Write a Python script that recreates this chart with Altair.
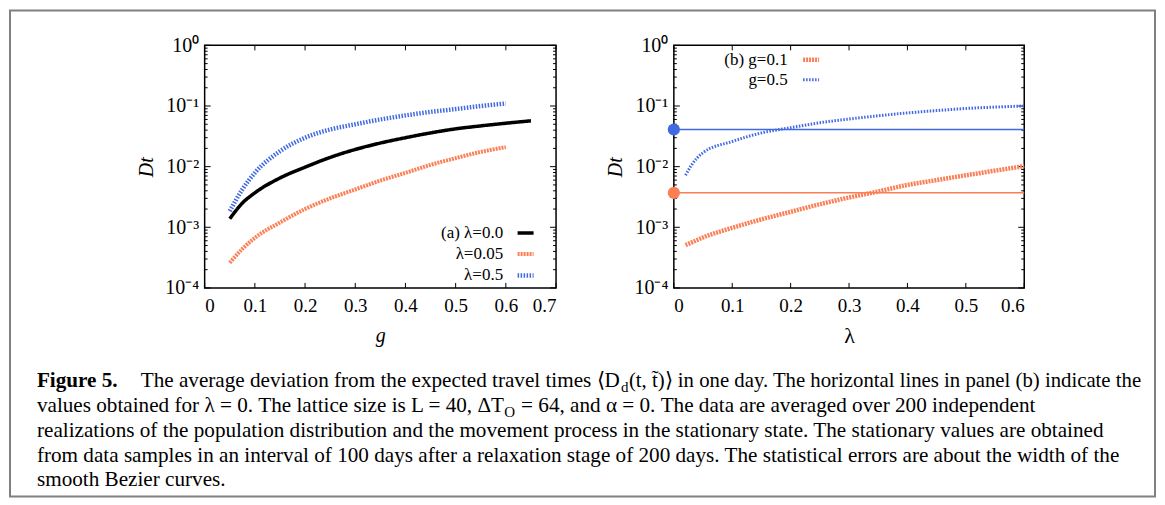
import altair as alt
import pandas as pd

FONT = "Liberation Serif"
ORANGE = "#fb7f55"
BLUE = "#4169e1"

# ---------------- data ----------------
g_vals = [0.05, 0.075, 0.10, 0.15, 0.20, 0.25, 0.30, 0.35, 0.40, 0.45, 0.50, 0.55, 0.60, 0.65]
dt_lam00 = [1.38e-3, 2.5e-3, 3.7e-3, 6.5e-3, 9.8e-3, 1.42e-2, 1.92e-2, 2.45e-2, 3.0e-2, 3.6e-2, 4.2e-2, 4.7e-2, 5.2e-2, 5.7e-2]
dt_lam005 = [2.6e-4, 4.4e-4, 6.7e-4, 1.2e-3, 2.0e-3, 3.0e-3, 4.2e-3, 5.9e-3, 7.9e-3, 1.07e-2, 1.38e-2, 1.75e-2, 2.1e-2]
dt_lam05 = [1.85e-3, 4.2e-3, 7.9e-3, 1.8e-2, 3.0e-2, 4.1e-2, 5.0e-2, 6.0e-2, 7.0e-2, 8.0e-2, 8.9e-2, 1.0e-1, 1.1e-1]
left_names = ["(a) λ=0.0", "λ=0.05", "λ=0.5"]

lam_vals = [0.02, 0.03, 0.05, 0.10, 0.15, 0.20, 0.25, 0.30, 0.35, 0.40, 0.45, 0.50, 0.55, 0.60]
dt_g01 = [5.1e-4, 5.6e-4, 6.8e-4, 9.8e-4, 1.35e-3, 1.8e-3, 2.4e-3, 3.1e-3, 3.9e-3, 5.0e-3, 6.0e-3, 7.2e-3, 8.6e-3, 1.02e-2]
dt_g05 = [7.2e-3, 1.05e-2, 1.7e-2, 2.6e-2, 3.6e-2, 4.4e-2, 5.3e-2, 6.1e-2, 6.9e-2, 7.7e-2, 8.4e-2, 9.1e-2, 9.6e-2, 1.0e-1]
right_names = ["(b) g=0.1", "g=0.5"]
ref_lambda0 = {"g=0.1": 3.7e-3, "g=0.5": 4.1e-2}   # values for lambda = 0

x_left_ticks = [0, 0.1, 0.2, 0.3, 0.4, 0.5, 0.6, 0.7]
x_right_ticks = [0, 0.1, 0.2, 0.3, 0.4, 0.5, 0.6]
y_major = [1e-4, 1e-3, 1e-2, 1e-1, 1]
y_minor = [m * 10.0 ** e for e in range(-4, 0) for m in range(2, 10)]

caption_bold = "Figure 5."
caption_l1a = "The average deviation from the expected travel times ⟨D"
caption_l1sub = "d"
caption_l1b = "(t, t̃)⟩ in one day. The horizontal lines in panel (b) indicate the"
caption_l2a = "values obtained for λ = 0. The lattice size is L = 40, ΔT"
caption_l2sub = "O"
caption_l2b = "= 64, and α = 0. The data are averaged over 200 independent"
caption_l3 = "realizations of the population distribution and the movement process in the stationary state. The stationary values are obtained"
caption_l4 = "from data samples in an interval of 100 days after a relaxation stage of 200 days. The statistical errors are about the width of the"
caption_l5 = "smooth Bezier curves."

# ---------------- tables ----------------
df_left = pd.concat([
    pd.DataFrame({"g": g_vals[:len(dt_lam00)], "Dt": dt_lam00, "series": left_names[0]}),
    pd.DataFrame({"g": g_vals[:len(dt_lam005)], "Dt": dt_lam005, "series": left_names[1]}),
    pd.DataFrame({"g": g_vals[:len(dt_lam05)], "Dt": dt_lam05, "series": left_names[2]}),
])
df_right = pd.concat([
    pd.DataFrame({"lam": lam_vals, "Dt": dt_g01, "series": right_names[0]}),
    pd.DataFrame({"lam": lam_vals, "Dt": dt_g05, "series": right_names[1]}),
])

W, H = 352, 243
W2 = 351
LOG = alt.Scale(type="log", domain=[1e-4, 1])
XL = alt.Scale(domain=[0, 0.7], nice=False, zero=False)
XR = alt.Scale(domain=[0, 0.6], nice=False, zero=False)
one = pd.DataFrame({"a": [0]})

y_label_expr = ("datum.value > 0.5 ? '10⁰' : datum.value > 0.05 ? '10⁻¹' : "
                "datum.value > 0.005 ? '10⁻²' : datum.value > 0.0005 ? '10⁻³' : '10⁻⁴'")
x_label_expr = "datum.value == 0 ? '0' : format(datum.value, '.1f')"

Y_AXIS = alt.Axis(values=y_major, labelExpr=y_label_expr, title="Dt", labelFontSize=20,
                  titleFontStyle="italic", labelPadding=6, titlePadding=8)
XL_AXIS = alt.Axis(values=x_left_ticks, labelExpr=x_label_expr, title="g", titleFontStyle="italic")
XR_AXIS = alt.Axis(values=x_right_ticks, labelExpr=x_label_expr, title="λ", titleFontSize=22)


def inner_ticks(xticks, xscale, xaxis, width):
    layers = []
    for vals, L in [(y_major, 6), (y_minor, 3)]:
        d = pd.DataFrame({"v": vals})
        base = alt.Chart(d).mark_rule(color="black", strokeWidth=1)
        layers.append(base.encode(y=alt.Y("v:Q", scale=LOG, axis=Y_AXIS),
                                  x=alt.value(0), x2=alt.value(L)))
        layers.append(base.encode(y=alt.Y("v:Q", scale=LOG, axis=Y_AXIS),
                                  x=alt.value(width - L), x2=alt.value(width)))
    d = pd.DataFrame({"v": xticks})
    base = alt.Chart(d).mark_rule(color="black", strokeWidth=1)
    layers.append(base.encode(x=alt.X("v:Q", scale=xscale, axis=xaxis),
                              y=alt.value(H - 5), y2=alt.value(H)))
    layers.append(base.encode(x=alt.X("v:Q", scale=xscale, axis=xaxis),
                              y=alt.value(0), y2=alt.value(5)))
    return layers


# ---------------- left panel ----------------
left_lines = alt.Chart(df_left).mark_line(interpolate="monotone", strokeCap="butt").encode(
    x=alt.X("g:Q", scale=XL, axis=XL_AXIS),
    y=alt.Y("Dt:Q", scale=LOG, axis=Y_AXIS),
    color=alt.Color("series:N", scale=alt.Scale(domain=left_names, range=["black", ORANGE, BLUE]),
                    legend=alt.Legend(title=None, orient="none", legendX=311, legendY=178,
                                      labelAlign="right", labelOffset={"expr": "-33"},
                                      symbolType="stroke",
                                      symbolSize=256, padding=0, rowPadding=3)),
    strokeDash=alt.StrokeDash("series:N", scale=alt.Scale(domain=left_names,
                                                          range=[[1, 0], [2, 1], [1.5, 1.5]])),
    strokeWidth=alt.StrokeWidth("series:N", scale=alt.Scale(domain=left_names, range=[3.5, 4.5, 3])),
)

frame = alt.Chart(one).mark_rect(fill="transparent", stroke="#808080", strokeWidth=2).encode(
    x=alt.value(-195), x2=alt.value(952), y=alt.value(-35), y2=alt.value(452))

CAP = 21.2


def cap(text, x, y, size=CAP, weight="normal", align="left"):
    return alt.Chart(one).mark_text(font=FONT, fontSize=size, fontWeight=weight, align=align,
                                    baseline="middle", color="black").encode(
        x=alt.value(x), y=alt.value(y), text=alt.value(text))


caption = [
    cap(caption_bold, -168, 336, weight="bold"),
    cap(caption_l1a, -64, 336),
    cap(caption_l1sub, 417, 342, size=15),
    cap(caption_l1b, 425, 336, size=20.8),
    cap(caption_l2a, -168, 361),
    cap(caption_l2sub, 300, 367, size=15),
    cap(caption_l2b, 317, 361),
    cap(caption_l3, -168, 386),
    cap(caption_l4, -168, 411),
    cap(caption_l5, -168, 435),
]

left = alt.layer(frame, *caption, *inner_ticks(x_left_ticks, XL, XL_AXIS, W), left_lines).properties(
    width=W, height=H)

# ---------------- right panel ----------------
right_lines = alt.Chart(df_right).mark_line(interpolate="monotone", strokeCap="butt").encode(
    x=alt.X("lam:Q", scale=XR, axis=XR_AXIS),
    y=alt.Y("Dt:Q", scale=LOG, axis=Y_AXIS),
    color=alt.Color("series:N", scale=alt.Scale(domain=right_names, range=[ORANGE, BLUE]),
                    legend=alt.Legend(title=None, orient="none", legendX=127, legendY=4,
                                      labelAlign="right", labelOffset={"expr": "-34"},
                                      symbolType="stroke",
                                      symbolSize=256, padding=0, rowPadding=1)),
    strokeDash=alt.StrokeDash("series:N", scale=alt.Scale(domain=right_names,
                                                          range=[[2, 1], [1.5, 1.5]])),
    strokeWidth=alt.StrokeWidth("series:N", scale=alt.Scale(domain=right_names, range=[4.5, 3])),
)

ref_layers = []
for name, col in [("g=0.1", ORANGE), ("g=0.5", BLUE)]:
    d = pd.DataFrame({"x0": [0.0], "x1": [0.6], "Dt": [ref_lambda0[name]]})
    ref_layers.append(alt.Chart(d).mark_rule(color=col, strokeWidth=1.5).encode(
        x=alt.X("x0:Q", scale=XR, axis=XR_AXIS), x2="x1:Q",
        y=alt.Y("Dt:Q", scale=LOG, axis=Y_AXIS)))
dot_layers = []
for name, col in [("g=0.1", ORANGE), ("g=0.5", BLUE)]:
    d = pd.DataFrame({"x0": [0.0], "Dt": [ref_lambda0[name]]})
    dot_layers.append(alt.Chart(d).mark_circle(color=col, size=150, opacity=1).encode(
        x=alt.X("x0:Q", scale=XR, axis=XR_AXIS),
        y=alt.Y("Dt:Q", scale=LOG, axis=Y_AXIS)))

right = alt.layer(*inner_ticks(x_right_ticks, XR, XR_AXIS, W2), *ref_layers, right_lines,
                  *dot_layers).properties(width=W2, height=H)

chart = alt.hconcat(left, right, spacing=118, bounds="flush").resolve_scale(
    x="independent", y="independent", color="independent",
    strokeDash="independent", strokeWidth="independent"
).resolve_legend(color="independent", strokeDash="independent", strokeWidth="independent").properties(
    padding=0, background="white"
).configure_view(stroke="black", strokeWidth=1.5).configure_axis(
    labelFont=FONT, labelFontSize=19, labelColor="black", titleFont=FONT, titleFontSize=20,
    titleFontWeight="normal", titleColor="black", ticks=False, domain=False, grid=False,
    labelPadding=9, titlePadding=10
).configure_legend(labelFont=FONT, labelFontSize=17, labelColor="black", labelLimit=0)

chart.save("out.html", embed_options={"renderer": "svg", "actions": False})
